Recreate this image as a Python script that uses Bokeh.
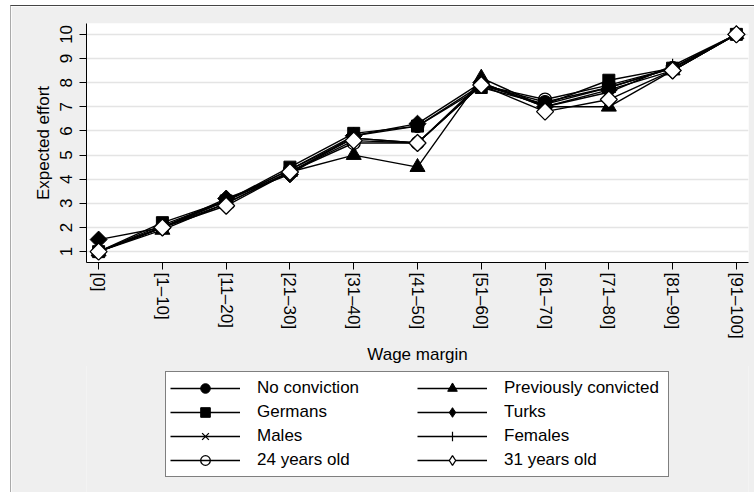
from bokeh.plotting import figure
from bokeh.layouts import column
from bokeh.models import FixedTicker, Legend, LegendItem, Range1d
from bokeh.embed import file_html
from bokeh.resources import INLINE

wage_margin = ["[0]", "[1–10]", "[11–20]", "[21–30]", "[31–40]", "[41–50]",
               "[51–60]", "[61–70]", "[71–80]", "[81–90]", "[91–100]"]

no_conviction = [1.0, 2.0, 3.1, 4.4, 5.8, 6.2, 7.9, 7.2, 7.8, 8.6, 10.0]
previously_convicted = [1.0, 1.9, 3.0, 4.3, 5.0, 4.5, 8.2, 7.0, 7.0, 8.5, 10.0]
germans = [1.0, 2.2, 3.1, 4.5, 5.9, 6.2, 7.8, 7.1, 8.1, 8.6, 10.0]
turks = [1.5, 2.0, 3.2, 4.2, 5.8, 6.3, 8.0, 7.0, 7.7, 8.5, 10.0]
males = [1.0, 2.0, 3.1, 4.3, 5.7, 5.5, 7.9, 7.1, 7.8, 8.6, 10.0]
females = [1.0, 2.1, 3.1, 4.4, 5.7, 5.5, 8.0, 7.0, 7.6, 8.7, 10.0]
age_24 = [1.0, 2.0, 3.0, 4.3, 5.5, 5.5, 7.9, 7.3, 7.9, 8.6, 10.0]
age_31 = [1.0, 2.0, 2.9, 4.3, 5.6, 5.5, 7.9, 6.8, 7.3, 8.5, 10.0]

series_names = ["No conviction", "Previously convicted", "Germans", "Turks",
                "Males", "Females", "24 years old", "31 years old"]
series_values = [no_conviction, previously_convicted, germans, turks,
                 males, females, age_24, age_31]
y_ticks = [1, 2, 3, 4, 5, 6, 7, 8, 9, 10]

x = list(range(len(wage_margin)))

FONT = "Liberation Sans"
BG = "#efefef"
QUARTER = 0.7853981634

p = figure(width=743, height=360, output_backend="svg", toolbar_location=None,
           x_range=Range1d(-0.19, 10.19), y_range=Range1d(0.55, 10.45),
           min_border_left=75, min_border_top=17, min_border_right=6,
           min_border_bottom=100)
p.border_fill_color = BG
p.background_fill_color = "white"
p.outline_line_color = None

p.xgrid.grid_line_color = None
p.ygrid.grid_line_color = "#e4e4e4"
p.ygrid.grid_line_width = 1.5
p.ygrid.ticker = FixedTicker(ticks=y_ticks)

p.xaxis.ticker = FixedTicker(ticks=x)
p.xaxis.major_label_overrides = {i: lab for i, lab in enumerate(wage_margin)}
p.xaxis.major_label_orientation = "vertical"
p.yaxis.ticker = FixedTicker(ticks=y_ticks)
p.yaxis.major_label_orientation = "vertical"

for ax in (p.xaxis[0], p.yaxis[0]):
    ax.axis_line_color = "black"
    ax.axis_line_width = 1
    ax.major_tick_line_color = "black"
    ax.major_tick_in = 0
    ax.major_tick_out = 7
    ax.minor_tick_line_color = None
    ax.major_label_text_font = FONT
    ax.major_label_text_font_size = "17px"
    ax.major_label_text_color = "black"
    ax.axis_label_text_font = FONT
    ax.axis_label_text_font_size = "17px"
    ax.axis_label_text_font_style = "normal"
    ax.axis_label_text_color = "black"

p.xaxis.axis_label = "Wage margin"
p.yaxis.axis_label = "Expected effort"
p.xaxis.major_label_standoff = 3
p.xaxis.axis_label_standoff = 3
p.yaxis.major_label_standoff = 7
p.yaxis.axis_label_standoff = 5

markers = [
    dict(marker="circle", size=13, fill_color="black", line_color="black"),
    dict(marker="triangle", size=15, fill_color="black", line_color="black"),
    dict(marker="square", size=12, fill_color="black", line_color="black"),
    dict(marker="square", size=12, angle=QUARTER, fill_color="black", line_color="black"),
    dict(marker="x", size=7, line_color="black", line_width=1.3),
    dict(marker="cross", size=14, line_color="black", line_width=1.2),
    dict(marker="circle", size=13, fill_color=None, line_color="black", line_width=1.3),
    dict(marker="square", size=12, angle=QUARTER, fill_color="white", line_color="black", line_width=1.3),
]

for vals, mk in zip(series_values, markers):
    p.line(x, vals, line_color="black", line_width=1.4)
    p.scatter(x, vals, **mk)

# legend panel below the chart (its own canvas, same grey background)
q = figure(width=743, height=127, output_backend="svg", toolbar_location=None,
           x_range=Range1d(0, 1), y_range=Range1d(0, 1),
           x_axis_location=None, y_axis_location=None,
           min_border_left=69, min_border_right=0, min_border_top=0,
           min_border_bottom=0, margin=(-1, 0, 0, 0))
q.border_fill_color = BG
q.background_fill_color = BG
q.outline_line_color = None
q.grid.visible = False

items = []
nan = [float("nan")]
for name, mk in zip(series_names, markers):
    key = dict(mk)
    if key.pop("angle", None):
        key["marker"] = "diamond"
    lr = q.line(nan, nan, line_color="black", line_width=1.3)
    kr = q.scatter(nan, nan, **key)
    items.append(LegendItem(label=name, renderers=[lr, kr]))

legend = Legend(items=items, orientation="horizontal", ncols=2, nrows=4,
                location="top_center",
                label_text_font=FONT, label_text_font_size="17px",
                label_text_color="black",
                glyph_width=70, glyph_height=24, label_height=24,
                label_width=160, label_standoff=17, spacing=0, padding=4,
                border_line_color="black", border_line_width=1,
                background_fill_color="white", background_fill_alpha=1.0,
                margin=6)
q.add_layout(legend, "center")

layout = column(p, q, spacing=0, margin=(5, 0, 0, 10),
                styles={"border-top": "1px solid #444", "border-left": "1px solid #aaa"})
open("out.html", "w").write(file_html(layout, INLINE))
